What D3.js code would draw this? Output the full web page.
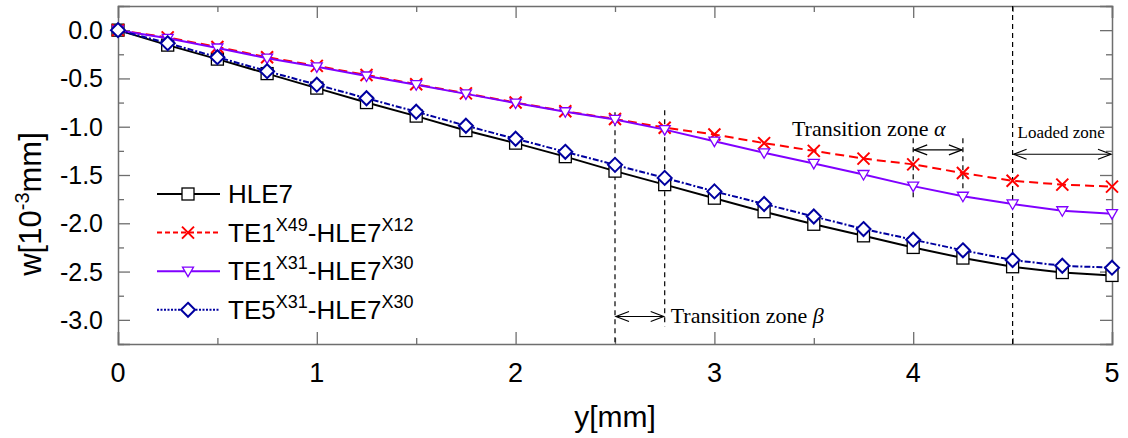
<!DOCTYPE html>
<html>
<head>
<meta charset="utf-8">
<script src="https://cdn.jsdelivr.net/npm/d3@7"></script>
<style>
  body { margin: 0; background: #fff; }
  svg { display: block; }
  text { font-family: "Liberation Sans", Arial, sans-serif; fill: #000; }
  .serif { font-family: "Liberation Serif", "Times New Roman", serif; }
</style>
</head>
<body>
<svg id="canvas"></svg>
<script>
const yPos = [0, 0.25, 0.5, 0.75, 1, 1.25, 1.5, 1.75, 2, 2.25, 2.5, 2.75, 3, 3.25, 3.5, 3.75, 4, 4.25, 4.5, 4.75, 5];

const hle7 = [0, -0.155, -0.30, -0.45, -0.60, -0.75, -0.89, -1.04, -1.17, -1.31, -1.46, -1.60, -1.74, -1.88, -2.01, -2.13, -2.25, -2.36, -2.45, -2.51, -2.54];
const te1x49 = [0, -0.075, -0.175, -0.28, -0.37, -0.465, -0.56, -0.655, -0.75, -0.84, -0.92, -1.01, -1.08, -1.17, -1.25, -1.33, -1.39, -1.48, -1.56, -1.60, -1.62];
const te1x31 = [0, -0.085, -0.185, -0.29, -0.38, -0.475, -0.565, -0.66, -0.755, -0.845, -0.925, -1.03, -1.15, -1.27, -1.38, -1.495, -1.615, -1.72, -1.80, -1.87, -1.90];
const te5x31 = [0, -0.135, -0.28, -0.425, -0.565, -0.705, -0.845, -0.99, -1.125, -1.26, -1.395, -1.53, -1.67, -1.80, -1.93, -2.06, -2.17, -2.28, -2.38, -2.44, -2.46];

const xTicks = [0, 1, 2, 3, 4, 5];
const yTicks = [0, -0.5, -1, -1.5, -2, -2.5, -3];

// vertical dashed guides: [x, yTop, yBottom]
const guides = [[2.5, -0.85, -3.25], [2.75, -0.83, -3.07], [4, -1.12, -1.74], [4.25, -1.12, -1.75], [4.5, 0.25, -3.25]];
// double arrows: [x1, x2, y]
const arrows = [[2.5, 2.75, -2.965], [4, 4.25, -1.24], [4.5, 5, -1.285]];

const width = 1128, height = 438;
const padLeft = 118, padRight = 1112, padTop = 6, padBottom = 344;

const svg = d3.select("#canvas").attr("width", width).attr("height", height);

const x = d3.scaleLinear().domain([0, 5]).range([padLeft, padRight]);
const y = d3.scaleLinear().domain([-3.25, 0.25]).range([padBottom, padTop]);

const series = [
    { name: ["HLE7"], values: hle7, color: "#000", dash: null, mark: "square", legDash: null },
    { name: ["TE1", "X49", "-HLE7", "X12"], values: te1x49, color: "#ff0000", dash: "9,5", mark: "cross", legDash: "5,3" },
    { name: ["TE1", "X31", "-HLE7", "X30"], values: te1x31, color: "#8000ff", dash: null, mark: "tri", legDash: null },
    { name: ["TE5", "X31", "-HLE7", "X30"], values: te5x31, color: "#0000a0", dash: "6,2,2,2", mark: "diamond", legDash: "2,1.5" }
];

// axes frame with inward ticks
const axisColor = "#6e6e6e";
const frame = svg.append("g");

const bottomAxis = d3.axisBottom(x).tickValues(d3.range(0, 5.01, 0.5))
    .tickSize(-12).tickFormat("");
frame.append("g").attr("transform", `translate(0,${padBottom})`).call(bottomAxis)
    .call(g => g.selectAll(".tick line").filter(d => d % 1 !== 0).attr("y2", -6));

const topAxis = d3.axisTop(x).tickValues(d3.range(0, 5.01, 0.5))
    .tickSize(-12).tickFormat("");
frame.append("g").attr("transform", `translate(0,${padTop})`).call(topAxis)
    .call(g => g.selectAll(".tick line").filter(d => d % 1 !== 0).attr("y2", 6));

const yMinor = d3.range(-3.25, 0.26, 0.25);
const isMinorY = d => Math.abs(d * 2 - Math.round(d * 2)) > 0.01;
const leftAxis = d3.axisLeft(y).tickValues(yMinor).tickSize(-12).tickFormat("");
frame.append("g").attr("transform", `translate(${padLeft},0)`).call(leftAxis)
    .call(g => g.selectAll(".tick line").filter(isMinorY).attr("x2", 6));

const rightAxis = d3.axisRight(y).tickValues(yMinor).tickSize(-12).tickFormat("");
frame.append("g").attr("transform", `translate(${padRight},0)`).call(rightAxis)
    .call(g => g.selectAll(".tick line").filter(isMinorY).attr("x2", -6));

frame.selectAll("path.domain").attr("stroke", axisColor).attr("stroke-width", 1.5);
frame.selectAll(".tick line").attr("stroke", axisColor).attr("stroke-width", 1.3);

// tick labels
svg.append("g").selectAll("text").data(xTicks).enter().append("text")
    .attr("x", d => x(d)).attr("y", 382)
    .attr("text-anchor", "middle").attr("font-size", 27)
    .text(d => d);

svg.append("g").selectAll("text").data(yTicks).enter().append("text")
    .attr("x", 103).attr("y", d => y(d)).attr("dy", "0.36em")
    .attr("text-anchor", "end").attr("font-size", 25)
    .text(d => d3.format(".1f")(d).replace("−", "-"));

// axis titles
svg.append("text").attr("x", 615).attr("y", 427).attr("text-anchor", "middle")
    .attr("font-size", 30).text("y[mm]");

const yTitle = svg.append("text").attr("transform", "translate(41,204) rotate(-90)")
    .attr("text-anchor", "middle").attr("font-size", 31);
yTitle.append("tspan").text("w[10");
yTitle.append("tspan").attr("font-size", 20).attr("dy", -12).text("-3");
yTitle.append("tspan").attr("dy", 12).text("mm]");

// annotation guides
const ann = svg.append("g").attr("stroke", "#000").attr("stroke-width", 1.2).attr("fill", "none");
ann.selectAll("line.guide").data(guides).enter().append("line")
    .attr("class", "guide")
    .attr("x1", d => x(d[0])).attr("x2", d => x(d[0]))
    .attr("y1", d => y(d[1])).attr("y2", d => y(d[2]))
    .attr("stroke-dasharray", "5,4");

arrows.forEach(a => {
    const x1 = x(a[0]) + 1, x2 = x(a[1]) - 1, yy = y(a[2]);
    ann.append("line").attr("x1", x1).attr("x2", x2).attr("y1", yy).attr("y2", yy);
    ann.append("path").attr("d", `M${x1 + 13},${yy - 5}L${x1},${yy}L${x1 + 13},${yy + 5}`);
    ann.append("path").attr("d", `M${x2 - 13},${yy - 5}L${x2},${yy}L${x2 - 13},${yy + 5}`);
});

const beta = svg.append("text").attr("class", "serif").attr("x", x(2.78)).attr("y", y(-3.03))
    .attr("font-size", 22);
beta.append("tspan").text("Transition zone ");
beta.append("tspan").attr("font-style", "italic").text("β");

const alpha = svg.append("text").attr("class", "serif").attr("x", x(3.39)).attr("y", y(-1.095))
    .attr("font-size", 22);
alpha.append("tspan").text("Transition zone ");
alpha.append("tspan").attr("font-style", "italic").text("α");

svg.append("text").attr("class", "serif").attr("x", x(4.525)).attr("y", y(-1.12))
    .attr("font-size", 17).text("Loaded zone");

// series
const line = d3.line().x((d, i) => x(yPos[i])).y(d => y(d));

function drawMarker(g, type, color) {
    if (type === "square") {
        g.append("rect").attr("x", -6).attr("y", -6).attr("width", 12).attr("height", 12)
            .attr("fill", "#fff").attr("stroke", color).attr("stroke-width", 1.3);
    } else if (type === "cross") {
        g.append("path").attr("d", "M-6,-6L6,6M-6,6L6,-6")
            .attr("stroke", color).attr("stroke-width", 2).attr("fill", "none");
    } else if (type === "tri") {
        g.append("path").attr("d", "M-5.5,-4L5.5,-4L0,5.5Z")
            .attr("fill", "#fff").attr("stroke", color).attr("stroke-width", 1.3);
    } else {
        g.append("path").attr("d", "M0,-7L7,0L0,7L-7,0Z")
            .attr("fill", "#fff").attr("stroke", color).attr("stroke-width", 2);
    }
}

series.forEach(s => {
    svg.append("path").datum(s.values)
        .attr("d", line).attr("fill", "none")
        .attr("stroke", s.color).attr("stroke-width", 2)
        .attr("stroke-dasharray", s.dash);
    svg.append("g").selectAll("g").data(s.values).enter().append("g")
        .attr("transform", (d, i) => `translate(${x(yPos[i])},${y(d)})`)
        .each(function () { drawMarker(d3.select(this), s.mark, s.color); });
});

// legend
const legend = svg.append("g");
series.forEach((s, i) => {
    const ly = 194 + i * 38.6;
    legend.append("line").attr("x1", 157).attr("x2", 220).attr("y1", ly).attr("y2", ly)
        .attr("stroke", s.color).attr("stroke-width", 2).attr("stroke-dasharray", s.legDash);
    drawMarker(legend.append("g").attr("transform", `translate(188,${ly})`), s.mark, s.color);
    const t = legend.append("text").attr("x", 228).attr("y", ly + 9).attr("font-size", 26);
    s.name.forEach((part, j) => {
        if (j % 2 === 1) {
            t.append("tspan").attr("font-size", 18).attr("dy", -11).text(part);
        } else {
            t.append("tspan").attr("dy", j > 0 ? 11 : 0).text(part);
        }
    });
});
</script>
</body>
</html>
